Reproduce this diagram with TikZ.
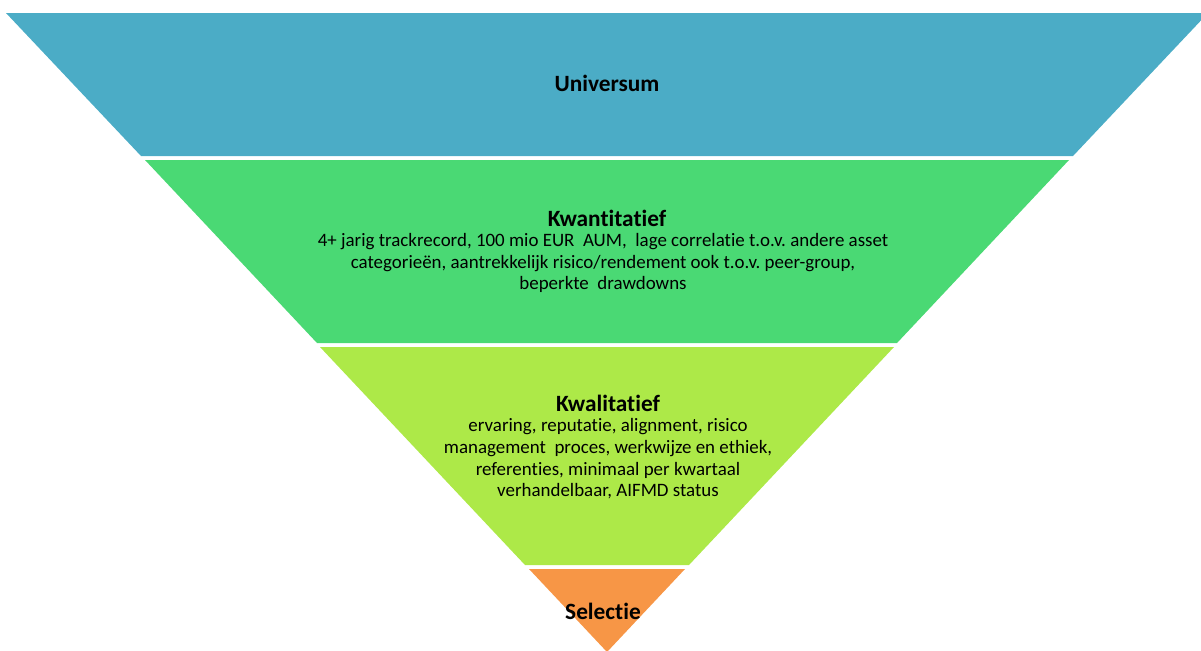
\documentclass[tikz,border=0pt]{standalone}
\usepackage{fontspec}
\setmainfont{Carlito}[Ligatures=NoCommon]
\usepackage{tikz}

\definecolor{universumblue}{RGB}{75,172,198}
\definecolor{kwantgreen}{RGB}{74,217,116}
\definecolor{kwallime}{RGB}{173,233,72}
\definecolor{selectorange}{RGB}{247,150,70}

\tikzset{
  titletext/.style={anchor=center,inner sep=0.75pt,font=\fontsize{17.5}{20}\selectfont\bfseries},
  bodytext/.style={anchor=center,inner sep=0.75pt,align=center,font=\fontsize{14.2}{16.3}\selectfont}
}

\begin{document}
\begin{tikzpicture}[x=0.75pt,y=0.75pt,yscale=-1,xscale=1]
    \useasboundingbox (0,0) rectangle (1201,650);
    \clip (0,0) rectangle (1201,650);

        % funnel bands
        \fill [universumblue] (6,13) -- (1208,13) -- (1073,156) -- (141,156) -- cycle ;
        \fill [kwantgreen] (145,160) -- (1069,160) -- (897,343) -- (317,343) -- cycle ;
        \fill [kwallime] (320,347) -- (894,347) -- (689,565) -- (525,565) -- cycle ;
        \fill [selectorange] (529,569) -- (685,569) -- (607,652) -- cycle ;

        \node [titletext] (universum) at (607,83) {Universum};
        \node [titletext] (kwantitatief) at (607,218) {Kwantitatief};
        \node [bodytext] (kwantbody) at (603,263) {4+ jarig trackrecord, 100 mio EUR\ \ AUM,\ \ lage correlatie t.o.v.\ andere asset\\ categorieën, aantrekkelijk risico/rendement ook t.o.v.\ peer-group,\\ beperkte\ \ drawdowns};
        \node [titletext] (kwalitatief) at (608,403) {Kwalitatief};
        \node [bodytext] (kwalbody) at (608,459) {ervaring, reputatie,\ alignment, risico\\ management\ \ proces, werkwijze en ethiek,\\ referenties,\ minimaal per kwartaal\\ verhandelbaar, AIFMD status};
        \node [titletext] (selectie) at (603,611) {Selectie};
    \end{tikzpicture}
\end{document}
